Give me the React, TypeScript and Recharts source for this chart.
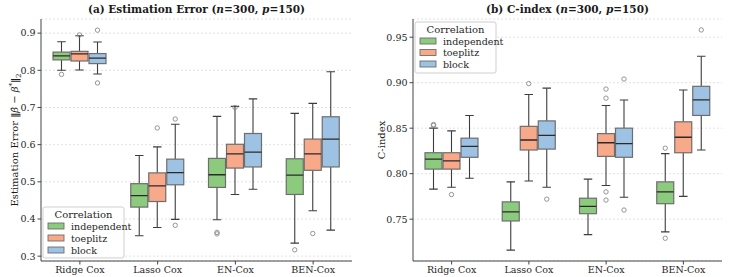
import React from "react";
import { ComposedChart, Bar, XAxis, YAxis, CartesianGrid } from "recharts";

const categories = ["Ridge Cox", "Lasso Cox", "EN-Cox", "BEN-Cox"];
const groups = ["independent", "toeplitz", "block"];
const colors = ["#8ccb7e", "#f7a98a", "#9ec2e3"];

// [low whisker, q1, median, q3, high whisker] per method
const errIndependent = [[0.800, 0.828, 0.839, 0.849, 0.877], [0.355, 0.432, 0.463, 0.495, 0.571], [0.398, 0.485, 0.519, 0.563, 0.676], [0.335, 0.466, 0.518, 0.562, 0.684]];
const errToeplitz = [[0.801, 0.825, 0.844, 0.851, 0.893], [0.377, 0.447, 0.489, 0.524, 0.594], [0.466, 0.537, 0.575, 0.601, 0.703], [0.422, 0.531, 0.575, 0.615, 0.711]];
const errBlock = [[0.790, 0.818, 0.833, 0.845, 0.876], [0.399, 0.492, 0.525, 0.561, 0.655], [0.480, 0.540, 0.580, 0.630, 0.723], [0.370, 0.540, 0.615, 0.675, 0.796]];
const errIndependentOut = [[0.789], [], [0.364, 0.360], [0.317]];
const errToeplitzOut = [[0.895], [0.645], [0.700], [0.361]];
const errBlockOut = [[0.908, 0.766], [0.669, 0.383], [], []];
const errTicks = [0.3, 0.4, 0.5, 0.6, 0.7, 0.8, 0.9];

const cIndependent = [[0.783, 0.805, 0.816, 0.823, 0.850], [0.716, 0.748, 0.758, 0.769, 0.791], [0.733, 0.756, 0.764, 0.773, 0.794], [0.736, 0.767, 0.780, 0.791, 0.822]];
const cToeplitz = [[0.785, 0.805, 0.814, 0.823, 0.847], [0.792, 0.826, 0.837, 0.852, 0.887], [0.787, 0.819, 0.834, 0.844, 0.875], [0.775, 0.823, 0.840, 0.857, 0.892]];
const cBlock = [[0.795, 0.818, 0.830, 0.839, 0.864], [0.785, 0.827, 0.842, 0.858, 0.894], [0.774, 0.818, 0.833, 0.850, 0.881], [0.826, 0.864, 0.881, 0.896, 0.929]];
const cIndependentOut = [[0.853, 0.854], [], [], [0.828, 0.729]];
const cToeplitzOut = [[0.777], [0.899], [0.893, 0.883, 0.780, 0.771], []];
const cBlockOut = [[], [0.772], [0.904, 0.760], [0.958]];
const cTicks = [0.75, 0.8, 0.85, 0.9, 0.95];

const FONT = "'DejaVu Serif', serif";

function buildRows(series: number[][][], outs: number[][][]) {
  return categories.map((name, i) => {
    const row: any = { name };
    series.forEach((s, k) => {
      row["s" + k] = s[i];
      row["o" + k] = outs[k][i];
    });
    return row;
  });
}

function BoxShape(props: any) {
  const { x, y, width, height, stats, out, color } = props;
  if (!stats) return null;
  const [lo, q1, med, q3, hi] = stats;
  const top = Math.min(y, y + height);
  const bot = Math.max(y, y + height);
  // map value -> pixel using the bar's own (scaled) whisker range
  const py = (v: number) => bot - ((v - lo) / (hi - lo)) * (bot - top);
  const cx = x + width / 2;
  const cap = width / 4;
  return (
    <g>
      <line x1={cx} x2={cx} y1={py(hi)} y2={py(q3)} stroke="#3d3d3d" strokeWidth={1.1} />
      <line x1={cx} x2={cx} y1={py(q1)} y2={py(lo)} stroke="#3d3d3d" strokeWidth={1.1} />
      <line x1={cx - cap} x2={cx + cap} y1={py(hi)} y2={py(hi)} stroke="#3d3d3d" strokeWidth={1.1} />
      <line x1={cx - cap} x2={cx + cap} y1={py(lo)} y2={py(lo)} stroke="#3d3d3d" strokeWidth={1.1} />
      <rect x={x} y={py(q3)} width={width} height={py(q1) - py(q3)} fill={color} stroke="#6e6e6e" strokeWidth={1.2} />
      <line x1={x} x2={x + width} y1={py(med)} y2={py(med)} stroke="#2a2a2a" strokeWidth={1.3} />
      {out.map((v: number, j: number) => (
        <circle key={j} cx={cx} cy={py(v)} r={2.2} fill="none" stroke="#8a8a8a" strokeWidth={0.9} />
      ))}
    </g>
  );
}

function Panel({ rows, domain, ticks, fmt, width, yWidth, right }: any) {
  const tickStyle = { fontSize: 9.5, fill: "#262626", fontFamily: FONT };
  return (
    <ComposedChart
      width={width}
      height={277}
      data={rows}
      margin={{ top: 19, right, bottom: 0, left: 0 }}
      barGap={1}
      barCategoryGap="15%"
    >
      <CartesianGrid vertical={false} stroke="#e2e2e2" strokeDasharray="2 2" />
      <XAxis dataKey="name" height={16} tick={tickStyle} tickSize={3.5} tickMargin={2} stroke="#444" interval={0} />
      <XAxis xAxisId="top" dataKey="name" orientation="top" height={0} tick={false} tickLine={false} stroke="#444" />
      <YAxis
        type="number"
        domain={domain}
        ticks={ticks}
        allowDataOverflow
        width={yWidth}
        tick={tickStyle}
        tickFormatter={fmt}
        tickSize={3.5}
        tickMargin={2}
        stroke="#444"
      />
      <YAxis yAxisId="right" orientation="right" type="number" domain={domain} width={0} tick={false} tickLine={false} stroke="#444" />
      {groups.map((g, k) => (
        <Bar
          key={g}
          name={g}
          dataKey={(d: any) => [d["s" + k][0], d["s" + k][4]]}
          fill={colors[k]}
          barSize={17}
          isAnimationActive={false}
          shape={(p: any) => <BoxShape {...p} stats={p.payload["s" + k]} out={p.payload["o" + k]} color={colors[k]} />}
        />
      ))}
    </ComposedChart>
  );
}

function LegendBox({ x, y, step }: { x: number; y: number; step: number }) {
  return (
    <g fontFamily={FONT}>
      <rect x={x} y={y} width={81} height={51} rx={2} fill="#fff" fillOpacity={0.85} stroke="#cfcfcf" />
      <text x={x + 40.5} y={y + 10.5} textAnchor="middle" fontSize={10} fill="#262626">Correlation</text>
      {groups.map((g, k) => (
        <g key={g}>
          <rect x={x + 5} y={y + 16 + k * step} width={16} height={6} fill={colors[k]} stroke="#6e6e6e" strokeWidth={0.9} />
          <text x={x + 28} y={y + 22.5 + k * step} fontSize={9.5} fill="#262626">{g}</text>
        </g>
      ))}
    </g>
  );
}

export default function App() {
  const errRows = buildRows([errIndependent, errToeplitz, errBlock], [errIndependentOut, errToeplitzOut, errBlockOut]);
  const cRows = buildRows([cIndependent, cToeplitz, cBlock], [cIndependentOut, cToeplitzOut, cBlockOut]);
  return (
    <div style={{ position: "absolute", left: 0, top: 0, width: 729, height: 277, background: "#fff" }}>
      <div style={{ position: "absolute", left: 0, top: 0 }}>
        <Panel rows={errRows} domain={[0.287, 0.938]} ticks={errTicks} fmt={(v: number) => v.toFixed(1)} width={365} yWidth={41} right={13} />
      </div>
      <div style={{ position: "absolute", left: 365, top: 0 }}>
        <Panel rows={cRows} domain={[0.704, 0.97]} ticks={cTicks} fmt={(v: number) => v.toFixed(2)} width={364} yWidth={48} right={7} />
      </div>
      <svg width={729} height={277} style={{ position: "absolute", left: 0, top: 0, pointerEvents: "none" }}>
        <text x={196.5} y={12.5} textAnchor="middle" fontFamily={FONT} fontWeight="bold" fontSize={10.5} fill="#1a1a1a">
          (a) Estimation Error (<tspan fontStyle="italic">n</tspan>=300, <tspan fontStyle="italic">p</tspan>=150)
        </text>
        <text x={567.5} y={12.5} textAnchor="middle" fontFamily={FONT} fontWeight="bold" fontSize={10.5} fill="#1a1a1a">
          (b) C-index (<tspan fontStyle="italic">n</tspan>=300, <tspan fontStyle="italic">p</tspan>=150)
        </text>
        <text transform="translate(18,140) rotate(-90)" textAnchor="middle" fontFamily={FONT} fontSize={10} fill="#1a1a1a">
          Estimation Error <tspan fontWeight="bold">‖</tspan><tspan fontStyle="italic">β̂</tspan> − <tspan fontStyle="italic">β</tspan>
          <tspan dy={-4} fontSize={7}>*</tspan>
          <tspan dy={4} fontWeight="bold">‖</tspan>
          <tspan dy={2.5} fontSize={7}>2</tspan>
        </text>
        <text transform="translate(385,140) rotate(-90)" textAnchor="middle" fontFamily={FONT} fontSize={10} fill="#1a1a1a">
          C-index
        </text>
        <LegendBox x={43} y={207} step={12} />
        <LegendBox x={415} y={22} step={11.5} />
      </svg>
    </div>
  );
}
